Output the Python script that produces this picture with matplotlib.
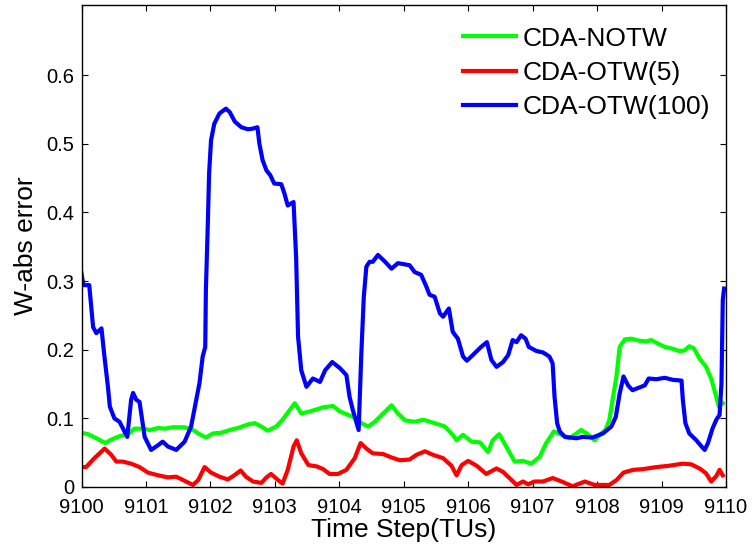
import matplotlib
matplotlib.use("Agg")
import matplotlib.pyplot as plt

plt.rcParams['font.family'] = ['Liberation Sans', 'DejaVu Sans']

labels = ["CDA-NOTW", "CDA-OTW(5)", "CDA-OTW(100)"]
colors = ["#00ff00", "#ff0000", "#0000ff"]

green_x = [9100.00, 9100.10, 9100.23, 9100.37, 9100.46, 9100.59, 9100.72, 9100.82, 9100.95, 9101.06,
           9101.19, 9101.29, 9101.42, 9101.60, 9101.73, 9101.83, 9101.93, 9102.04, 9102.17, 9102.30,
           9102.43, 9102.58, 9102.69, 9102.79, 9102.89, 9103.02, 9103.12, 9103.23, 9103.31, 9103.41,
           9103.54, 9103.75, 9103.90, 9104.01, 9104.14, 9104.24, 9104.34, 9104.45, 9104.55, 9104.68,
           9104.81, 9104.91, 9105.02, 9105.17, 9105.30, 9105.48, 9105.64, 9105.76, 9105.82, 9105.92,
           9106.05, 9106.18, 9106.31, 9106.38, 9106.48, 9106.59, 9106.72, 9106.85, 9106.98, 9107.11,
           9107.21, 9107.33, 9107.45, 9107.57, 9107.68, 9107.75, 9107.84, 9107.96, 9108.04, 9108.13,
           9108.19, 9108.24, 9108.30, 9108.35, 9108.43, 9108.53, 9108.66, 9108.76, 9108.84, 9108.94,
           9109.05, 9109.15, 9109.28, 9109.36, 9109.43, 9109.50, 9109.59, 9109.69, 9109.77, 9109.82,
           9109.89, 9109.95]
green_y = [0.079, 0.077, 0.071, 0.064, 0.069, 0.074, 0.077, 0.085, 0.085, 0.083,
           0.086, 0.085, 0.087, 0.087, 0.083, 0.077, 0.072, 0.078, 0.079, 0.083,
           0.086, 0.091, 0.093, 0.088, 0.082, 0.088, 0.098, 0.112, 0.122, 0.107,
           0.110, 0.116, 0.118, 0.110, 0.105, 0.101, 0.093, 0.088, 0.095, 0.107,
           0.119, 0.107, 0.097, 0.095, 0.098, 0.093, 0.088, 0.076, 0.068, 0.076,
           0.066, 0.065, 0.051, 0.068, 0.077, 0.059, 0.037, 0.038, 0.034, 0.044,
           0.064, 0.081, 0.076, 0.071, 0.078, 0.083, 0.078, 0.068, 0.076, 0.083,
           0.098, 0.127, 0.161, 0.204, 0.215, 0.216, 0.213, 0.212, 0.214, 0.209,
           0.204, 0.202, 0.198, 0.199, 0.205, 0.202, 0.187, 0.175, 0.158, 0.141,
           0.117, 0.122]

red_x = [9100.00, 9100.07, 9100.20, 9100.36, 9100.46, 9100.54, 9100.64, 9100.77, 9100.90, 9101.03,
         9101.19, 9101.34, 9101.47, 9101.60, 9101.73, 9101.81, 9101.91, 9102.01, 9102.14, 9102.27,
         9102.37, 9102.47, 9102.55, 9102.66, 9102.79, 9102.87, 9102.94, 9103.05, 9103.12, 9103.20,
         9103.29, 9103.34, 9103.41, 9103.52, 9103.65, 9103.75, 9103.85, 9103.98, 9104.11, 9104.24,
         9104.33, 9104.42, 9104.52, 9104.68, 9104.81, 9104.94, 9105.09, 9105.20, 9105.33, 9105.45,
         9105.61, 9105.74, 9105.82, 9105.90, 9106.00, 9106.13, 9106.28, 9106.44, 9106.54, 9106.64,
         9106.75, 9106.85, 9106.93, 9107.03, 9107.16, 9107.31, 9107.45, 9107.62, 9107.81, 9107.96,
         9108.19, 9108.30, 9108.41, 9108.56, 9108.71, 9108.92, 9109.12, 9109.33, 9109.46, 9109.59,
         9109.69, 9109.77, 9109.85, 9109.90, 9109.95]
red_y = [0.029, 0.029, 0.042, 0.056, 0.047, 0.037, 0.037, 0.034, 0.029, 0.021,
         0.017, 0.014, 0.015, 0.009, 0.003, 0.010, 0.029, 0.021, 0.015, 0.011,
         0.017, 0.024, 0.015, 0.008, 0.006, 0.014, 0.019, 0.010, 0.005, 0.025,
         0.059, 0.068, 0.049, 0.032, 0.030, 0.026, 0.019, 0.019, 0.025, 0.042,
         0.064, 0.056, 0.049, 0.048, 0.043, 0.039, 0.040, 0.047, 0.052, 0.047,
         0.042, 0.031, 0.017, 0.032, 0.038, 0.031, 0.019, 0.027, 0.022, 0.013,
         0.003, 0.008, 0.004, 0.008, 0.008, 0.013, 0.008, 0.001, 0.008, 0.003,
         0.003, 0.010, 0.021, 0.025, 0.026, 0.029, 0.031, 0.034, 0.033, 0.027,
         0.020, 0.008, 0.016, 0.025, 0.017]

blue_x = [9100.00, 9100.03, 9100.12, 9100.18, 9100.23, 9100.31, 9100.35, 9100.41, 9100.44, 9100.51,
          9100.59, 9100.71, 9100.77, 9100.80, 9100.85, 9100.90, 9100.98, 9101.08, 9101.19, 9101.26,
          9101.34, 9101.47, 9101.60, 9101.70, 9101.78, 9101.83, 9101.88, 9101.92, 9101.93, 9101.96,
          9101.98, 9102.01, 9102.06, 9102.14, 9102.24, 9102.30, 9102.38, 9102.48, 9102.58, 9102.66,
          9102.73, 9102.76, 9102.81, 9102.87, 9102.93, 9102.99, 9103.10, 9103.15, 9103.20, 9103.29,
          9103.33, 9103.36, 9103.41, 9103.49, 9103.59, 9103.70, 9103.78, 9103.89, 9104.01, 9104.11,
          9104.16, 9104.21, 9104.30, 9104.34, 9104.38, 9104.42, 9104.47, 9104.52, 9104.60, 9104.71,
          9104.81, 9104.91, 9105.09, 9105.17, 9105.27, 9105.35, 9105.40, 9105.48, 9105.56, 9105.61,
          9105.70, 9105.76, 9105.84, 9105.92, 9105.98, 9106.07, 9106.20, 9106.29, 9106.36, 9106.44,
          9106.54, 9106.62, 9106.69, 9106.75, 9106.82, 9106.89, 9106.94, 9107.06, 9107.16, 9107.26,
          9107.31, 9107.34, 9107.38, 9107.42, 9107.50, 9107.68, 9107.78, 9107.93, 9108.09, 9108.22,
          9108.29, 9108.35, 9108.41, 9108.48, 9108.55, 9108.66, 9108.74, 9108.80, 9108.92, 9109.05,
          9109.18, 9109.31, 9109.33, 9109.37, 9109.43, 9109.54, 9109.62, 9109.67, 9109.72, 9109.79,
          9109.85, 9109.90, 9109.93, 9109.95, 9109.97]
blue_y = [0.311, 0.294, 0.294, 0.233, 0.224, 0.231, 0.195, 0.146, 0.117, 0.100,
          0.095, 0.073, 0.127, 0.137, 0.127, 0.124, 0.073, 0.054, 0.061, 0.066,
          0.059, 0.054, 0.066, 0.088, 0.127, 0.151, 0.190, 0.204, 0.287, 0.384,
          0.457, 0.505, 0.529, 0.544, 0.551, 0.546, 0.532, 0.524, 0.521, 0.522,
          0.524, 0.500, 0.476, 0.461, 0.454, 0.442, 0.441, 0.427, 0.410, 0.415,
          0.335, 0.219, 0.170, 0.146, 0.158, 0.153, 0.170, 0.182, 0.173, 0.163,
          0.131, 0.112, 0.083, 0.190, 0.277, 0.321, 0.328, 0.328, 0.338, 0.328,
          0.318, 0.326, 0.323, 0.313, 0.309, 0.292, 0.280, 0.277, 0.253, 0.248,
          0.260, 0.226, 0.216, 0.190, 0.184, 0.192, 0.204, 0.211, 0.185, 0.175,
          0.182, 0.192, 0.214, 0.211, 0.221, 0.216, 0.204, 0.198, 0.196, 0.190,
          0.180, 0.131, 0.093, 0.081, 0.073, 0.071, 0.073, 0.072, 0.078, 0.088,
          0.102, 0.136, 0.161, 0.148, 0.141, 0.145, 0.148, 0.158, 0.157, 0.159,
          0.156, 0.155, 0.127, 0.093, 0.078, 0.068, 0.059, 0.054, 0.064, 0.085,
          0.098, 0.105, 0.151, 0.272, 0.289]

x_ticks = [9100, 9101, 9102, 9103, 9104, 9105, 9106, 9107, 9108, 9109, 9110]
y_ticks = [0, 0.1, 0.2, 0.3, 0.4, 0.5, 0.6]
y_ticklabels = ["0", "0.1", "0.2", "0.3", "0.4", "0.5", "0.6"]

fig = plt.figure(figsize=(7.53, 5.51), dpi=100)
ax = fig.add_axes([81.5/753, 1-487/551, (726-81.5)/753, (487-5)/551])

lw = 3.0
ax.plot(green_x, green_y, color=colors[0], lw=lw, label=labels[0])
ax.plot(red_x, red_y, color=colors[1], lw=lw, label=labels[1])
ax.plot(blue_x, blue_y, color=colors[2], lw=lw, label=labels[2])

ax.set_xlim(9100, 9110)
ax.set_ylim(0, 0.702)
ax.set_xticks(x_ticks)
ax.set_xticklabels([str(t) for t in x_ticks])
ax.set_yticks(y_ticks)
ax.set_yticklabels(y_ticklabels)
ax.tick_params(direction='in', length=4, width=0.8, top=True, right=True,
               labelsize=14.5)
ax.tick_params(axis='y', pad=5)
ax.tick_params(axis='x', pad=8)
for s in ax.spines.values():
    s.set_linewidth(1.0)

ax.set_xlabel("Time Step(TUs)", fontsize=19, labelpad=1)
ax.set_ylabel("W-abs error", fontsize=19, labelpad=6)

leg = ax.legend(loc='upper left', bbox_to_anchor=(0.592, 0.955), frameon=False,
                fontsize=19, handlelength=2.0, handletextpad=0.27,
                labelspacing=0.39, borderpad=0, borderaxespad=0)

fig.savefig("out.png", dpi=100)
